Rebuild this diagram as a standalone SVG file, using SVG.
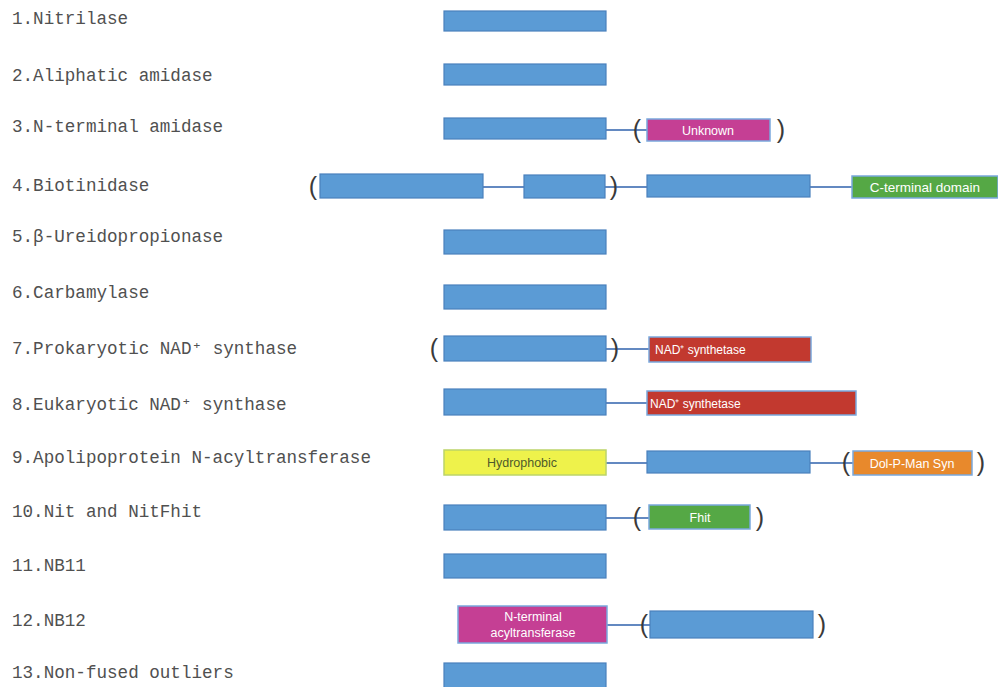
<svg xmlns="http://www.w3.org/2000/svg" width="998" height="687" viewBox="0 0 998 687">
<style>
.lbl{font-family:"Liberation Mono","DejaVu Sans Mono",monospace;font-size:17.6px;fill:#505050}
.dom{fill:#5b9bd5;stroke:#4a80bd;stroke-width:1.2}
.cdom{stroke:#79a8dd;stroke-width:1.5}
.t{font-family:"Liberation Sans",Arial,sans-serif;font-size:12.5px;fill:#ffffff;text-anchor:middle}
.par{font-family:"Liberation Sans",Arial,sans-serif;font-size:25px;fill:#3a3a3a;text-anchor:middle}
.ln{stroke:#2f62ad;stroke-width:1.6;fill:none}
</style>
<rect width="998" height="687" fill="#ffffff"/>
<g id="labels">
<text class="lbl" x="12" y="24">1.Nitrilase</text>
<text class="lbl" x="12" y="81">2.Aliphatic amidase</text>
<text class="lbl" x="12" y="132">3.N-terminal amidase</text>
<text class="lbl" x="12" y="191">4.Biotinidase</text>
<text class="lbl" x="12" y="242">5.β-Ureidopropionase</text>
<text class="lbl" x="12" y="298">6.Carbamylase</text>
<text class="lbl" x="12" y="354">7.Prokaryotic NAD⁺ synthase</text>
<text class="lbl" x="12" y="410">8.Eukaryotic NAD⁺ synthase</text>
<text class="lbl" x="12" y="463">9.Apolipoprotein N-acyltransferase</text>
<text class="lbl" x="12" y="517">10.Nit and NitFhit</text>
<text class="lbl" x="12" y="571">11.NB11</text>
<text class="lbl" x="12" y="626">12.NB12</text>
<text class="lbl" x="12" y="678">13.Non-fused outliers</text>
</g>
<g id="connectors">
<line class="ln" x1="606" y1="130" x2="647" y2="130"/>
<line class="ln" x1="483" y1="187" x2="524" y2="187"/>
<line class="ln" x1="605" y1="187" x2="647" y2="187"/>
<line class="ln" x1="810" y1="187" x2="852" y2="187"/>
<line class="ln" x1="606" y1="349" x2="649" y2="349"/>
<line class="ln" x1="606" y1="403" x2="647" y2="403"/>
<line class="ln" x1="606" y1="463" x2="647" y2="463"/>
<line class="ln" x1="810" y1="463" x2="853" y2="463"/>
<line class="ln" x1="606" y1="518" x2="649" y2="518"/>
<line class="ln" x1="607" y1="625" x2="650" y2="625"/>
</g>
<g id="row1"><rect class="dom" x="444" y="11" width="162" height="20"/></g>
<g id="row2"><rect class="dom" x="444" y="64" width="162" height="21"/></g>
<g id="row3">
<rect class="dom" x="444" y="118" width="162" height="21"/>
<text class="par" x="637" y="138">(</text>
<rect class="cdom" x="647" y="119" width="123" height="22" fill="#c53f94"/>
<text class="t" x="708" y="134.5">Unknown</text>
<text class="par" x="781" y="138">)</text>
</g>
<g id="row4">
<text class="par" x="313" y="195">(</text>
<rect class="dom" x="320" y="174" width="163" height="24"/>
<rect class="dom" x="524" y="175" width="81" height="23"/>
<text class="par" x="614" y="195">)</text>
<rect class="dom" x="647" y="175" width="163" height="22"/>
<rect class="cdom" x="852" y="176" width="146" height="22" fill="#55a845"/>
<text class="t" x="925" y="191.5" style="font-size:13.5px">C-terminal domain</text>
</g>
<g id="row5"><rect class="dom" x="444" y="230" width="162" height="24"/></g>
<g id="row6"><rect class="dom" x="444" y="285" width="162" height="24"/></g>
<g id="row7">
<text class="par" x="434" y="357">(</text>
<rect class="dom" x="444" y="336" width="162" height="25"/>
<text class="par" x="615" y="357">)</text>
<rect class="cdom" x="649" y="337" width="162" height="25" fill="#c2392f"/>
<text class="t" x="655" y="354" style="text-anchor:start;font-size:12px">NAD⁺ synthetase</text>
</g>
<g id="row8">
<rect class="dom" x="444" y="389" width="162" height="26"/>
<rect class="cdom" x="647" y="391" width="209" height="24" fill="#c2392f"/>
<text class="t" x="650" y="407.5" style="text-anchor:start;font-size:12px">NAD⁺ synthetase</text>
</g>
<g id="row9">
<rect x="444" y="450" width="162" height="25" fill="#eef24b" stroke="#bcd468" stroke-width="1.5"/>
<text class="t" x="522" y="467" style="fill:#4e5a2c">Hydrophobic</text>
<rect class="dom" x="647" y="451" width="163" height="22"/>
<text class="par" x="846" y="471">(</text>
<rect class="cdom" x="853" y="451" width="119" height="24" fill="#e8892c"/>
<text class="t" x="912" y="467.5">Dol-P-Man Syn</text>
<text class="par" x="981" y="471">)</text>
</g>
<g id="row10">
<rect class="dom" x="444" y="505" width="162" height="25"/>
<text class="par" x="637" y="526">(</text>
<rect class="cdom" x="649" y="505" width="101" height="24" fill="#55a845"/>
<text class="t" x="700" y="521.5">Fhit</text>
<text class="par" x="760" y="526">)</text>
</g>
<g id="row11"><rect class="dom" x="444" y="554" width="162" height="24"/></g>
<g id="row12">
<rect class="cdom" x="458" y="606" width="149" height="37" fill="#c53f94"/>
<text class="t" x="533" y="621">N-terminal</text>
<text class="t" x="533" y="637">acyltransferase</text>
<text class="par" x="644" y="633">(</text>
<rect class="dom" x="650" y="611" width="163" height="27"/>
<text class="par" x="822" y="633">)</text>
</g>
<g id="row13"><rect class="dom" x="444" y="663" width="162" height="26"/></g>
</svg>
